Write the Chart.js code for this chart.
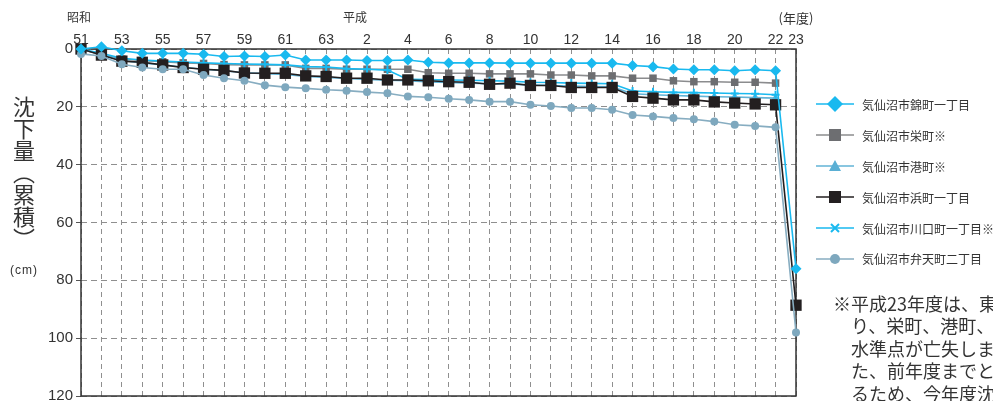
<!DOCTYPE html>
<html lang="ja">
<head>
<meta charset="utf-8">
<script src="https://cdn.jsdelivr.net/npm/chart.js@4.4.1/dist/chart.umd.min.js"></script>
<style>
  html, body { margin: 0; padding: 0; background: #fff; }
  body {
    width: 993px; height: 401px; overflow: hidden; position: relative;
    font-family: "Noto Sans CJK JP", "Noto Sans", sans-serif; color: #333;
  }
  #chart { position: absolute; left: 0; top: 0; }
  .lbl { position: absolute; white-space: nowrap; line-height: 1; }
  .era { font-size: 12px; top: 11px; transform: translateX(-50%); }
  #ytitle {
    left: 13px; top: 96px; font-size: 22px;
    writing-mode: vertical-rl; text-orientation: upright; letter-spacing: 0;
  }
  #unit { left: 10px; top: 264px; font-size: 12px; letter-spacing: 1px; font-family: "Liberation Sans", sans-serif; }
  #legend { position: absolute; left: 816px; top: 89px; }
  .row { display: flex; align-items: center; height: 30.9px; }
  .row span { font-size: 12px; margin-left: 8px; white-space: nowrap; }
  #note { position: absolute; left: 833px; top: 292px; font-size: 18px; line-height: 22.4px; white-space: nowrap; }
  #note div { padding-left: 18px; }
  #note div:first-child { padding-left: 0; }
</style>
</head>
<body>
<canvas id="chart" width="993" height="420"></canvas>
<div class="lbl era" style="left:79px">昭和</div>
<div class="lbl era" style="left:355px">平成</div>
<div class="lbl era" style="left:796px;font-size:13px">(年度)</div>
<div class="lbl" id="ytitle">沈下量（累積）</div>
<div class="lbl" id="unit">(cm)</div>
<div id="legend"></div>
<div id="note">
  <div>※平成23年度は、東日本大震災によ</div>
  <div>り、栄町、港町、川口町一丁目の</div>
  <div>水準点が亡失しました。ま</div>
  <div>た、前年度までと測量方法が異な</div>
  <div>るため、今年度沈下量は参考値</div>
</div>
<script>
// 年度 (昭和51〜63, 平成1〜23)
const categories = ['51', '52', '53', '54', '55', '56', '57', '58', '59', '60', '61', '62', '63',
  '1', '2', '3', '4', '5', '6', '7', '8', '9', '10', '11', '12', '13', '14', '15', '16',
  '17', '18', '19', '20', '21', '22', '23'];
const tickLabels = ['51', '', '53', '', '55', '', '57', '', '59', '', '61', '', '63',
  '', '2', '', '4', '', '6', '', '8', '', '10', '', '12', '', '14', '', '16',
  '', '18', '', '20', '', '22', '23'];

const seriesNames = ['気仙沼市錦町一丁目', '気仙沼市栄町※', '気仙沼市港町※',
  '気仙沼市浜町一丁目', '気仙沼市川口町一丁目※', '気仙沼市弁天町二丁目'];

// 累積沈下量 (cm)
const nishiki = [0, -0.8, 0.6, 1.5, 1.5, 1.5, 1.8, 2.6, 2.4, 2.6, 2.1, 3.8, 3.8,
  3.8, 4.0, 4.0, 3.8, 4.6, 4.8, 4.8, 4.8, 4.9, 4.9, 4.9, 4.9, 4.9, 4.9, 5.7, 6.1,
  6.9, 7.2, 7.2, 7.5, 7.2, 7.5, 76];
const sakae = [0, 2, 3.5, 4, 4.4, 4.8, 5, 5.4, 5.5, 5.5, 5.5, 6.7, 6.7,
  7, 7, 7, 7, 8.2, 8.4, 8.4, 8.6, 8.6, 8.6, 9, 9, 9.3, 9.3, 10.1, 10.1,
  11, 11.3, 11.3, 11.5, 11.5, 11.8, null];
const minato = [0, 2, 4, 4.8, 5.5, 6.3, 7, 7.5, 8.2, 8.5, 8.8, 9.5, 9.8,
  10.2, 10.5, 10.8, 11, 11.4, 11.6, 11.8, 12, 12.2, 12.4, 12.6, 12.8, 13, 13.1, 15.5, 15.8,
  16.1, 16.3, 16.5, 16.6, 16.8, 17, null];
const hama = [0, 2.1, 4.2, 4.6, 5.5, 6.4, 7, 7.4, 8.3, 8.4, 8.4, 9.3, 9.5,
  10.1, 10.1, 10.7, 10.7, 11, 11.3, 11.5, 12.2, 11.8, 12.6, 12.6, 13.3, 13.3, 13.3, 16.4, 17,
  17.6, 17.6, 18.3, 18.7, 19, 19.3, 88.6];
const kawaguchi = [0, 1.5, 3.2, 3.8, 4.2, 4.5, 4.8, 5, 5.2, 5.3, 5.5, 6.1, 6.2,
  6.8, 7, 7.3, 10.5, 10.6, 10.7, 10.8, 11, 11.1, 11.5, 11.6, 11.8, 11.9, 12, 14.5, 14.8,
  15, 15.1, 15.2, 15.4, 15.5, 15.8, null];
const benten = [1.7, 2.4, 5.3, 6.4, 7, 7, 9, 10.1, 11, 12.5, 13.2, 13.6, 14.1,
  14.4, 14.9, 15.3, 16.4, 16.7, 17.2, 17.6, 18.2, 18.2, 19.3, 19.7, 20.4, 20.4, 21, 22.8, 23.3,
  23.9, 24.3, 25.1, 26.2, 26.6, 27.1, 98];

const yTicks = [0, 20, 40, 60, 80, 100, 120];

// styles
const lineColors = ['#19b9ef', '#8b8c8e', '#62b3d6', '#231f20', '#19b9ef', '#87adc1'];
const markColors = ['#19b9ef', '#6d6e71', '#5aafd4', '#231f20', '#19b9ef', '#7ea8be'];
const markStyles = ['rectRot', 'rect', 'triangle', 'rect', 'cross', 'circle'];
const markSizes = [5.5, 5.3, 5, 8, 4, 4];
const drawOrder = [1, 6, 5, 3, 4, 2];

const allSeries = [nishiki, sakae, minato, hama, kawaguchi, benten];

const frame = {
  id: 'frame',
  beforeDatasetsDraw(chart) {
    const { ctx, chartArea: a } = chart;
    ctx.save();
    ctx.strokeStyle = '#333';
    ctx.lineWidth = 1.5;
    ctx.strokeRect(a.left, a.top, a.right - a.left, a.bottom - a.top);
    ctx.restore();
  },
};

new Chart(document.getElementById('chart'), {
  type: 'line',
  data: {
    labels: categories,
    datasets: allSeries.map((values, i) => ({
      label: seriesNames[i],
      data: values,
      borderColor: lineColors[i],
      backgroundColor: markColors[i],
      pointBackgroundColor: markColors[i],
      pointBorderColor: markColors[i],
      pointBorderWidth: markStyles[i] === 'cross' ? 2 : 0,
      pointStyle: markStyles[i],
      pointRadius: markSizes[i],
      borderWidth: 1.6,
      tension: 0,
      clip: false,
      order: drawOrder[i],
    })),
  },
  plugins: [frame],
  options: {
    responsive: false,
    animation: false,
    layout: { padding: { left: 45, top: 0, right: 197, bottom: 24 } },
    plugins: { legend: { display: false }, tooltip: { enabled: false } },
    scales: {
      x: {
        position: 'top',
        offset: false,
        afterFit(scale) { scale.height = 49; },
        grid: { color: '#8f8f8f', lineWidth: 1, drawTicks: false },
        border: { display: false, dash: [5, 4] },
        ticks: {
          autoSkip: false, maxRotation: 0, padding: 0,
          color: '#333', font: { family: 'Liberation Sans', size: 14 },
          callback: (v, i) => tickLabels[i],
        },
      },
      y: {
        reverse: true,
        min: 0,
        max: 120,
        afterFit(scale) { scale.width = 36; },
        afterBuildTicks(scale) { scale.ticks = yTicks.map((v) => ({ value: v })); },
        grid: { color: '#8f8f8f', lineWidth: 1, tickLength: 5, tickColor: '#555', tickBorderDash: [] },
        border: { display: false, dash: [6, 4] },
        ticks: { padding: 3, color: '#333', font: { family: 'Liberation Sans', size: 15 } },
      },
    },
  },
});

// legend
const legend = document.getElementById('legend');
seriesNames.forEach((name, i) => {
  const c = markColors[i];
  let mark = '';
  if (markStyles[i] === 'rectRot') mark = `<polygon points="19,1 27,9 19,17 11,9" fill="${c}"/>`;
  else if (markStyles[i] === 'rect') mark = `<rect x="13" y="3" width="12" height="12" fill="${c}"/>`;
  else if (markStyles[i] === 'triangle') mark = `<polygon points="19,3 25,14 13,14" fill="${c}"/>`;
  else if (markStyles[i] === 'cross') mark = `<path d="M15 5 L23 13 M23 5 L15 13" stroke="${c}" stroke-width="2"/>`;
  else mark = `<circle cx="19" cy="9" r="5" fill="${c}"/>`;
  const row = document.createElement('div');
  row.className = 'row';
  row.innerHTML = `<svg width="38" height="18"><line x1="0" y1="9" x2="38" y2="9" stroke="${lineColors[i]}" stroke-width="1.6"/>${mark}</svg><span>${name}</span>`;
  legend.appendChild(row);
});
</script>
</body>
</html>
